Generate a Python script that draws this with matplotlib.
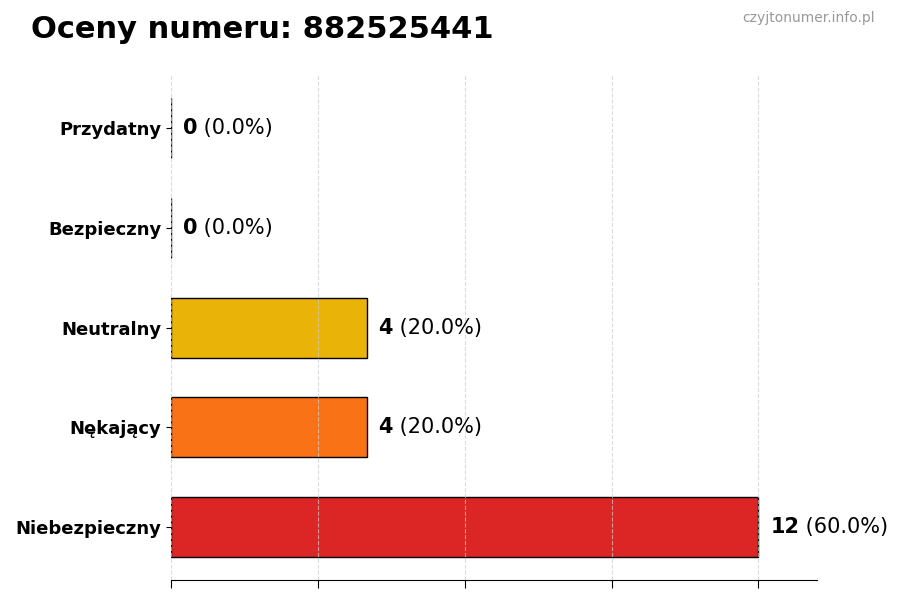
import matplotlib
matplotlib.use("Agg")
import matplotlib.pyplot as plt

kategorie = ["Niebezpieczny", "Nękający", "Neutralny", "Bezpieczny", "Przydatny"]
liczby = [12, 4, 4, 0, 0]
kolory = ["#DC2626", "#F97316", "#EAB308", "#22C55E", "#3B82F6"]
razem = sum(liczby)

fig = plt.figure(figsize=(9, 6), dpi=100)
ax = fig.add_axes([0.19, 0.033, 0.718, 0.842])

pozycje = list(range(len(kategorie)))
ax.barh(pozycje, liczby, height=0.6, color=kolory, edgecolor="black", linewidth=1, zorder=2)

ax.set_yticks(pozycje)
ax.set_yticklabels(kategorie, fontsize=13, fontweight="bold")
ax.set_xlim(0, max(liczby) * 1.1)
ax.set_xticks([0, 3, 6, 9, 12])
ax.set_xticklabels([])
ax.tick_params(axis="x", length=6)
ax.grid(axis="x", linestyle="--", color="#cccccc", alpha=0.7, zorder=3)
ax.set_axisbelow(False)

for s in ["top", "right", "left"]:
    ax.spines[s].set_visible(False)

for y, v in zip(pozycje, liczby):
    proc = v / razem * 100
    t = ax.annotate(f"{v}", xy=(v, y), xytext=(8.5, 0), textcoords="offset points",
                    va="center", ha="left", fontsize=15, fontweight="bold")
    ax.annotate(f" ({proc:.1f}%)", xycoords=t, xy=(1, 0.5), va="center", ha="left", fontsize=15)

fig.text(0.034, 0.95, "Oceny numeru: 882525441", fontsize=22, fontweight="bold", va="center")
fig.text(0.972, 0.97, "czyjtonumer.info.pl", fontsize=10, color="#999999", ha="right", va="center")

fig.savefig("out.png", dpi=100)
